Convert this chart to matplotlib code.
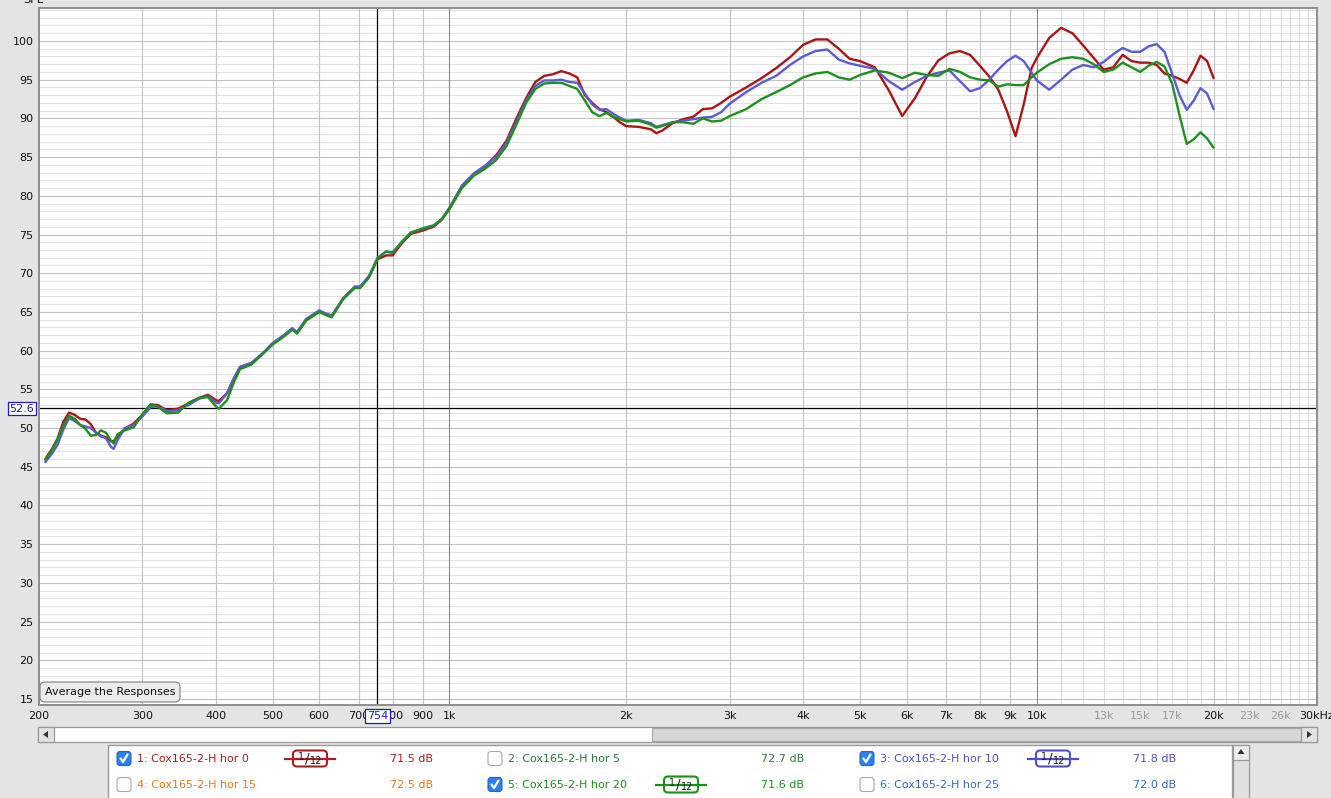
import numpy as np
import matplotlib.pyplot as plt
from matplotlib.patches import FancyBboxPatch, Rectangle, Polygon
from matplotlib.ticker import NullLocator

# frequency points (Hz)
freq = [205, 210, 215, 220, 225, 230, 235, 240, 245, 250,
        255, 260, 265, 268, 272, 280, 290, 300, 310, 318,
        330, 345, 360, 375, 388, 400, 405, 418, 430, 440,
        460, 480, 500, 520, 540, 550, 570, 600, 620, 630,
        660, 690, 705, 730, 754, 780, 800, 830, 860, 900,
        940, 970, 1000, 1050, 1100, 1150, 1200, 1250, 1300, 1350,
        1400, 1450, 1500, 1550, 1600, 1650, 1700, 1750, 1800, 1850,
        1900, 1950, 2000, 2100, 2200, 2250, 2300, 2400, 2500, 2600,
        2700, 2800, 2900, 3000, 3200, 3400, 3600, 3800, 4000, 4200,
        4400, 4600, 4800, 5000, 5300, 5600, 5900, 6200, 6500, 6800,
        7100, 7400, 7700, 8000, 8300, 8600, 8900, 9200, 9500, 9800,
        10000, 10500, 11000, 11500, 12000, 12500, 13000, 13500, 14000, 14500,
        15000, 15500, 16000, 16500, 17000, 17500, 18000, 18500, 19000, 19500, 20000]

# SPL (dB) of the three visible measurements
hor_0 = [46.0, 47.2, 48.6, 50.8, 52.0, 51.7, 51.2, 51.1, 50.5, 49.4,
         49.0, 48.8, 48.3, 48.3, 48.9, 49.9, 50.6, 51.7, 53.0, 53.0,
         52.3, 52.5, 53.2, 53.9, 54.3, 53.6, 53.5, 54.5, 56.5, 57.9,
         58.4, 59.6, 60.9, 61.8, 62.8, 62.3, 63.9, 65.0, 64.7, 64.5,
         66.8, 68.2, 68.2, 69.6, 71.8, 72.3, 72.3, 73.9, 75.1, 75.5,
         76.0, 76.9, 78.3, 81.3, 82.8, 83.8, 85.2, 87.1, 90.0, 92.6,
         94.7, 95.5, 95.7, 96.1, 95.8, 95.3, 93.0, 92.0, 91.2, 90.8,
         90.2, 89.5, 89.0, 88.9, 88.6, 88.1, 88.4, 89.4, 89.9, 90.2,
         91.2, 91.3, 92.0, 92.8, 94.0, 95.2, 96.5, 97.9, 99.5, 100.2,
         100.2, 99.0, 97.7, 97.4, 96.6, 93.6, 90.3, 92.6, 95.4, 97.5,
         98.4, 98.7, 98.2, 96.8, 95.4, 93.7, 90.9, 87.7, 91.8, 96.5,
         97.8, 100.4, 101.7, 101.0, 99.4, 97.8, 96.3, 96.6, 98.2, 97.4,
         97.2, 97.2, 96.9, 95.8, 95.5, 95.1, 94.6, 96.2, 98.1, 97.4, 95.2]

hor_10 = [45.6, 46.6, 47.8, 49.8, 51.3, 50.9, 50.4, 50.2, 50.0, 49.4,
          48.9, 48.7, 47.6, 47.3, 48.4, 50.0, 50.4, 51.5, 52.7, 52.8,
          52.2, 52.3, 53.0, 53.8, 54.1, 53.3, 53.2, 54.5, 56.5, 57.9,
          58.4, 59.6, 61.0, 61.9, 62.9, 62.4, 64.1, 65.2, 64.7, 64.5,
          66.8, 68.3, 68.3, 69.7, 72.0, 72.8, 72.6, 74.1, 75.3, 75.7,
          76.1, 77.0, 78.5, 81.3, 82.9, 83.9, 85.0, 86.8, 89.6, 92.3,
          94.2, 94.9, 94.9, 95.0, 94.7, 94.6, 93.2, 91.8, 91.1, 91.2,
          90.6, 90.1, 89.7, 89.8, 89.4, 88.9, 89.1, 89.5, 89.7, 89.9,
          90.1, 90.2, 90.8, 91.9, 93.4, 94.6, 95.5, 96.9, 98.0, 98.7,
          98.9, 97.6, 97.1, 96.8, 96.4, 94.8, 93.7, 94.7, 95.5, 95.9,
          96.2, 94.8, 93.5, 93.9, 95.0, 96.3, 97.4, 98.1, 97.4, 95.9,
          94.9, 93.7, 95.0, 96.3, 96.9, 96.6, 97.3, 98.3, 99.1, 98.6,
          98.6, 99.3, 99.6, 98.6, 95.8, 93.0, 91.1, 92.3, 93.9, 93.2, 91.2]

hor_20 = [45.9, 47.0, 48.5, 50.3, 51.6, 51.2, 50.4, 49.9, 49.0, 49.1,
          49.7, 49.4, 48.4, 48.0, 49.2, 49.7, 50.1, 51.8, 53.1, 52.8,
          51.9, 52.0, 53.3, 53.9, 54.0, 52.8, 52.5, 53.6, 56.0, 57.6,
          58.2, 59.5, 60.8, 61.7, 62.7, 62.2, 63.9, 65.0, 64.5, 64.3,
          66.7, 68.1, 68.1, 69.5, 71.9, 72.8, 72.7, 74.0, 75.2, 75.8,
          76.2, 77.0, 78.3, 81.0, 82.6, 83.5, 84.6, 86.4, 89.2, 92.0,
          93.8, 94.5, 94.6, 94.6, 94.2, 93.8, 92.3, 90.8, 90.3, 90.7,
          90.2, 89.9, 89.6, 89.7, 89.2, 88.8, 89.0, 89.5, 89.5, 89.3,
          90.0, 89.6, 89.7, 90.3, 91.2, 92.5, 93.4, 94.3, 95.3, 95.8,
          96.0, 95.3, 95.0, 95.6, 96.2, 95.9, 95.2, 95.9, 95.6, 95.5,
          96.4, 96.0, 95.3, 95.0, 94.9, 94.1, 94.4, 94.3, 94.3, 95.3,
          95.9, 97.0, 97.7, 97.9, 97.7, 97.0, 96.0, 96.3, 97.2, 96.6,
          96.0, 96.8, 97.3, 96.7, 94.5, 90.4, 86.7, 87.3, 88.2, 87.4, 86.2]

x_ticks = [200, 300, 400, 500, 600, 700, 800, 900, 1000, 2000, 3000, 4000,
           5000, 6000, 7000, 8000, 9000, 10000, 13000, 15000, 17000,
           20000, 23000, 26000, 30000]
x_labels = ['200', '300', '400', '500', '600', '700', '800', '900', '1k', '2k',
            '3k', '4k', '5k', '6k', '7k', '8k', '9k', '10k', '13k', '15k',
            '17k', '20k', '23k', '26k', '30kHz']
grey_labels = ['13k', '15k', '17k', '23k', '26k']
y_ticks = list(range(15, 101, 5))

cursor_f = 754
cursor_db = 52.6

legend_names = ['1: Cox165-2-H hor 0', '2: Cox165-2-H hor 5', '3: Cox165-2-H hor 10',
                '4: Cox165-2-H hor 15', '5: Cox165-2-H hor 20', '6: Cox165-2-H hor 25']
legend_levels = ['71.5 dB', '72.7 dB', '71.8 dB', '72.5 dB', '71.6 dB', '72.0 dB']
legend_checked = [True, False, True, False, True, False]
legend_colors = ['#ac1e1e', '#2a7a3e', '#5050c0', '#e07a1a', '#1e8c1e', '#2e6ec2']

W, H = 1331, 798
fig = plt.figure(figsize=(W / 100, H / 100), dpi=100, facecolor='#e4e4e4')

# main plot area, pixel box 39..1317 x 8..705
ax = fig.add_axes([39 / W, 1 - 705 / H, (1317 - 39) / W, (705 - 8) / H])
ax.set_xscale('log')
ax.set_xlim(200, 30000)
ax.set_ylim(14.22, 104.26)

# grid
for db in range(15, 105):
    if db % 5:
        ax.axhline(db, color='#e1e1e1', lw=0.8, zorder=0)
for f in list(range(11000, 20000, 1000)) + list(range(21000, 30000, 1000)):
    ax.axvline(f, color='#dadada', lw=0.8, zorder=0)
for db in range(15, 105, 5):
    ax.axhline(db, color='#c2c2c2', lw=0.8, zorder=0.5)
for f in [300, 400, 500, 600, 700, 800, 900, 2000, 3000, 4000, 5000,
          6000, 7000, 8000, 9000, 20000]:
    ax.axvline(f, color='#c2c2c2', lw=0.8, zorder=0.5)
for f in [1000, 10000]:
    ax.axvline(f, color='#888888', lw=0.8, zorder=0.6)

# cursor
ax.axvline(cursor_f, color='black', lw=0.9, zorder=1)
ax.axhline(cursor_db, color='black', lw=0.9, zorder=1)

line_kw = dict(lw=1.7, zorder=3, solid_joinstyle='round', solid_capstyle='round')
ax.plot(freq, hor_0, color='#a81616', **line_kw)
ax.plot(freq, hor_10, color='#5c5cd0', **line_kw)
ax.plot(freq, hor_20, color='#1f901f', **line_kw)

ax.set_xticks(x_ticks)
ax.set_xticklabels(x_labels)
ax.xaxis.set_minor_locator(NullLocator())
ax.set_yticks(y_ticks)
ax.tick_params(axis='both', length=0, labelsize=8, labelcolor='#111111')
ax.tick_params(axis='x', pad=4)
ax.tick_params(axis='y', pad=4)
for lab in ax.get_xticklabels():
    if lab.get_text() in grey_labels:
        lab.set_color('#9a9a9a')
for s in ax.spines.values():
    s.set_color('#8e8e8e')
    s.set_linewidth(1.4)

# overlay in pixel coordinates for the application chrome
ov = fig.add_axes([0, 0, 1, 1], zorder=5)
ov.set_xlim(0, W)
ov.set_ylim(H, 0)
ov.axis('off')

ov.text(33, 0, 'SPL', ha='center', va='center', fontsize=8, color='#111111')

# cursor value boxes
ov.text(22, 408.5, '52.6', ha='center', va='center', fontsize=8, color='#1a1ad0',
        bbox=dict(boxstyle='square,pad=0.15', fc='white', ec='#1a1ad0', lw=0.9))
cx = 39 + (1317 - 39) * np.log10(cursor_f / 200) / np.log10(30000 / 200)
ov.text(cx, 716, '754', ha='center', va='center', fontsize=8, color='#1a1ad0',
        bbox=dict(boxstyle='square,pad=0.15', fc='white', ec='#1a1ad0', lw=0.9))

# button
ov.add_patch(FancyBboxPatch((40, 682), 140, 20, boxstyle='round,pad=0,rounding_size=5',
                            fc='#ececec', ec='#8a8a8a', lw=0.9))
ov.text(110, 692, 'Average the Responses', ha='center', va='center', fontsize=8,
        color='#111111')

# horizontal scrollbar
ov.add_patch(Rectangle((38, 727), 1279, 15, fc='white', ec='#9a9a9a', lw=0.9))
ov.add_patch(Rectangle((652, 728), 650, 13, fc='#d6d6d6', ec='#a8a8a8', lw=0.8))
ov.add_patch(Rectangle((38, 727), 16, 15, fc='#e2e2e2', ec='#9a9a9a', lw=0.9))
ov.add_patch(Rectangle((1301, 727), 16, 15, fc='#e2e2e2', ec='#9a9a9a', lw=0.9))
ov.add_patch(Polygon([[43, 734.5], [48, 731], [48, 738]], closed=True, fc='#333333'))
ov.add_patch(Polygon([[1312, 734.5], [1307, 731], [1307, 738]], closed=True, fc='#333333'))

# legend panel
ov.add_patch(Rectangle((108, 745), 1124, 60, fc='white', ec='#9a9a9a', lw=1.0))
ov.add_patch(Rectangle((1233, 745), 16, 60, fc='#e0e0e0', ec='#9a9a9a', lw=0.9))
ov.add_patch(Rectangle((1233, 745), 16, 15, fc='#ececec', ec='#9a9a9a', lw=0.9))
ov.add_patch(Polygon([[1241, 749], [1237.5, 754], [1244.5, 754]], closed=True, fc='#333333'))

col_x = [117, 488, 860]
row_y = [758.5, 784.5]
for i, name in enumerate(legend_names):
    cx0 = col_x[i % 3]
    ry = row_y[i // 3]
    c = legend_colors[i]
    if legend_checked[i]:
        ov.add_patch(FancyBboxPatch((cx0, ry - 7), 14, 14,
                                    boxstyle='round,pad=0,rounding_size=3',
                                    fc='#2f80ec', ec='#2468c8', lw=0.8))
        ov.plot([cx0 + 3.5, cx0 + 6, cx0 + 10.5], [ry, ry + 3.5, ry - 4],
                color='white', lw=1.6, solid_capstyle='round')
        # smoothing indicator
        ix = cx0 + 193
        ov.plot([ix - 25, ix + 25], [ry, ry], color=c, lw=1.6)
        ov.add_patch(FancyBboxPatch((ix - 17, ry - 8), 34, 16,
                                    boxstyle='round,pad=0,rounding_size=4',
                                    fc='white', ec=c, lw=1.5))
        ov.text(ix - 9, ry - 2, '1', ha='center', va='center', fontsize=7, color='#222222')
        ov.text(ix - 3, ry, '/', ha='center', va='center', fontsize=10, color='#222222')
        ov.text(ix + 6, ry + 3, '12', ha='center', va='center', fontsize=7, color='#222222')
    else:
        ov.add_patch(FancyBboxPatch((cx0, ry - 7), 14, 14,
                                    boxstyle='round,pad=0,rounding_size=3',
                                    fc='white', ec='#a8a8a8', lw=0.8))
    ov.text(cx0 + 20, ry, name, ha='left', va='center', fontsize=8, color=c)
    ov.text(cx0 + 316, ry, legend_levels[i], ha='right', va='center', fontsize=8, color=c)

fig.savefig('out.png', dpi=100, facecolor=fig.get_facecolor())
